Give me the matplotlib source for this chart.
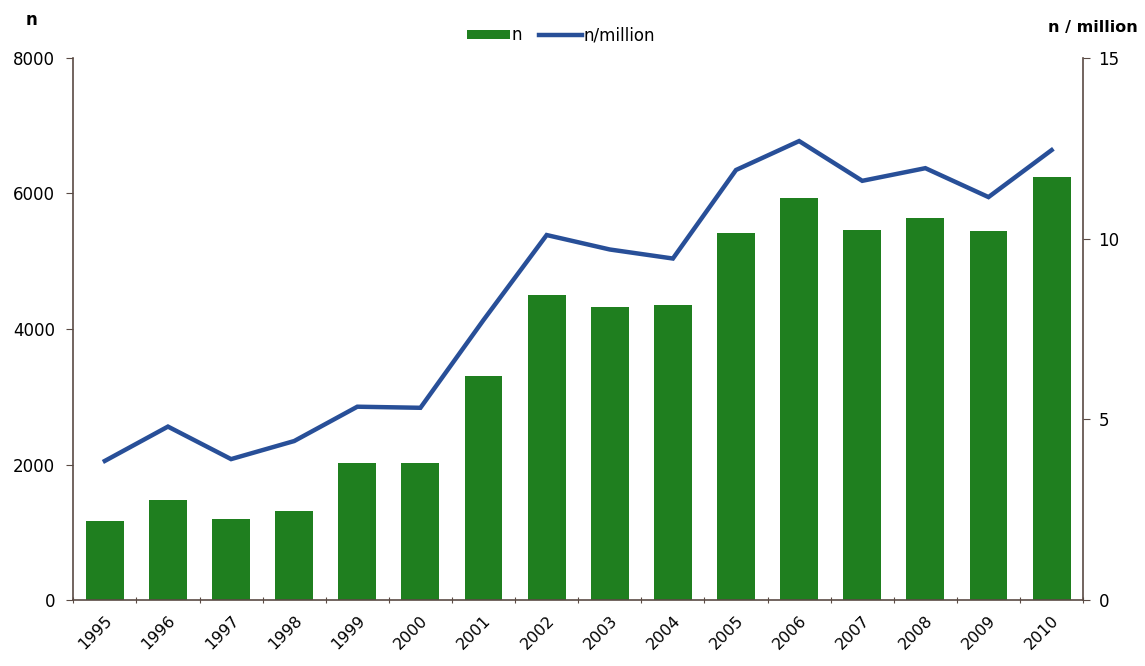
import numpy as np
import matplotlib.pyplot as plt

years = [str(y) for y in range(1995, 2011)]
n_values = [1170, 1470, 1190, 1320, 2020, 2020, 3300, 4500,
            4330, 4350, 5420, 5940, 5460, 5640, 5450, 6240]
n_per_million = [3.85, 4.8, 3.9, 4.4, 5.35, 5.32, 7.75, 10.1,
                 9.7, 9.45, 11.9, 12.7, 11.6, 11.95, 11.15, 12.45]

GREEN = "#1f7f1f"
BLUE = "#284f98"
AXIS = "#5a4a44"


def main() -> None:
    fig = plt.figure(figsize=(11.45, 6.66), dpi=100)
    ax = fig.add_axes([0.064, 0.099, 0.882, 0.814])
    ax2 = ax.twinx()

    x = np.arange(len(years))
    bars = ax.bar(x, n_values, width=0.6, color=GREEN, zorder=2, label="n")
    line, = ax2.plot(x, n_per_million, color=BLUE, linewidth=3.2,
                     solid_joinstyle="miter", label="n/million")

    ax.set_xlim(-0.5, len(years) - 0.5)
    ax.set_ylim(0, 8000)
    ax2.set_ylim(0, 15)
    ax.set_yticks([0, 2000, 4000, 6000, 8000])
    ax2.set_yticks([0, 5, 10, 15])

    # graduations entre les catégories, étiquettes sous les barres
    ax.set_xticks(np.arange(-0.5, len(years)), minor=False)
    ax.set_xticklabels([])
    ax.set_xticks(x, minor=True)
    ax.set_xticklabels(years, minor=True, rotation=45, ha="right",
                       rotation_mode="anchor", fontsize=11.5)
    ax.tick_params(axis="x", which="minor", length=0, pad=9)
    ax.tick_params(axis="x", which="major", length=5, color=AXIS, direction="inout")

    ax.tick_params(axis="y", labelsize=12, length=5, color=AXIS, pad=8)
    ax2.tick_params(axis="y", labelsize=12, length=5, color=AXIS, pad=6)

    for a in (ax, ax2):
        a.spines["top"].set_visible(False)
        for s in ("left", "right", "bottom"):
            a.spines[s].set_color(AXIS)
            a.spines[s].set_linewidth(1.2)
    ax.spines["right"].set_visible(False)
    ax2.spines["left"].set_visible(False)
    ax2.spines["bottom"].set_visible(False)

    fig.text(0.022, 0.97, "n", fontsize=12, fontweight="bold", ha="left", va="center")
    fig.text(0.994, 0.958, "n / million", fontsize=11.5, fontweight="bold",
             ha="right", va="center")

    fig.legend([bars, line], ["n", "n/million"], loc="center",
               bbox_to_anchor=(0.49, 0.947), ncol=2, frameon=False,
               fontsize=12, handlelength=2.6, handleheight=0.5,
               handletextpad=0.1, columnspacing=1.0)

    fig.savefig("out.png", dpi=100)


if __name__ == "__main__":
    main()
